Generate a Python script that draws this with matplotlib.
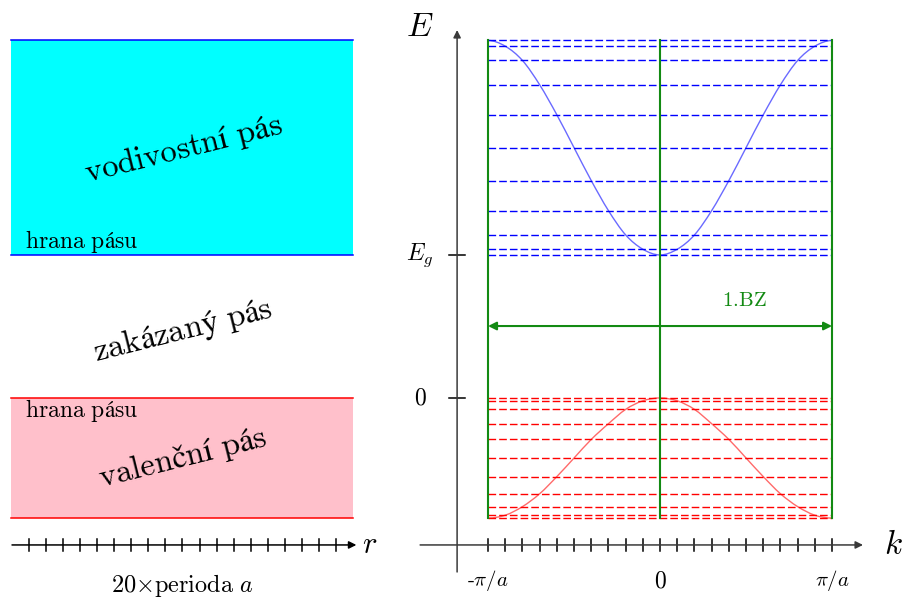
import numpy as np
import matplotlib
matplotlib.use("Agg")
import matplotlib.pyplot as plt
from matplotlib.path import Path
from matplotlib.patches import PathPatch, Rectangle

plt.rcParams["mathtext.fontset"] = "cm"
plt.rcParams["font.family"] = ["DejaVu Serif"]

# ---- data -------------------------------------------------------------
# allowed wavevectors of a crystal of 20 periods, in units of pi/a
k_points = [-1.0, -0.9, -0.8, -0.7, -0.6, -0.5, -0.4, -0.3, -0.2, -0.1, 0.0,
            0.1, 0.2, 0.3, 0.4, 0.5, 0.6, 0.7, 0.8, 0.9, 1.0]
# band energies at |k| = 0, 0.1, ..., 1.0 pi/a  (E = 0 at the valence band top)
cond_levels = [1.00, 1.04, 1.14, 1.31, 1.52, 1.75, 1.98, 2.19, 2.36, 2.46, 2.50]
val_levels = [0.00, -0.02, -0.08, -0.18, -0.29, -0.42, -0.55, -0.67, -0.76, -0.82, -0.84]
E_gap = 1.0
n_periods = 20
k_tick_pos = [-1.0, 0.0, 1.0]
k_tick_labels = [r"$\text{-}\pi/a$", r"$0$", r"$\pi/a$"]
E_tick_pos = [0.0, E_gap]
E_tick_labels = [r"$0$", r"$E_g$"]

cond_E = [cond_levels[int(round(abs(k) * 10))] for k in k_points]
val_E = [val_levels[int(round(abs(k) * 10))] for k in k_points]

# ---- styling ----------------------------------------------------------
GREEN = "#138a13"
AXIS = "#3a3a3a"
E_LIMS = (-1.406, 2.783)
E_AXIS_Y = -1.028          # energy level where the horizontal axes run

fig = plt.figure(figsize=(9.06, 5.99), dpi=100)
axL = fig.add_axes([0, 0, 400 / 906, 1])
axR = fig.add_axes([400 / 906, 0, 506 / 906, 1])
axL.set_xlim(-0.704, 22.76)
axR.set_xlim(-1.512, 1.430)
for ax in (axL, axR):
    ax.set_ylim(*E_LIMS)
    ax.axis("off")


def smooth_path(xs, ys):
    """Smooth curve through the given points (Catmull-Rom as cubic Beziers)."""
    P = np.column_stack([xs, ys]).astype(float)
    first = np.array([2 * P[0, 0] - P[1, 0], P[1, 1]])
    last = np.array([2 * P[-1, 0] - P[-2, 0], P[-2, 1]])
    Q = np.vstack([first, P, last])
    verts = [Q[1]]
    codes = [Path.MOVETO]
    for i in range(1, len(Q) - 2):
        p0, p1, p2, p3 = Q[i - 1], Q[i], Q[i + 1], Q[i + 2]
        verts += [p1 + (p2 - p0) / 6, p2 - (p3 - p1) / 6, p2]
        codes += [Path.CURVE4] * 3
    return Path(verts, codes)


def arrow(ax, start, end, color, lw=1.3, style="-|>", ms=12):
    ax.annotate("", xy=end, xytext=start,
                arrowprops=dict(arrowstyle=style, color=color, lw=lw,
                                mutation_scale=ms, shrinkA=0, shrinkB=0),
                annotation_clip=False)


# ---- left: bands in real space ----------------------------------------
c_top, c_bot = max(cond_levels), min(cond_levels)
v_top, v_bot = max(val_levels), min(val_levels)
axL.add_patch(Rectangle((-0.03, c_bot), n_periods + 0.03, c_top - c_bot,
                        facecolor="#00ffff", edgecolor="none"))
axL.add_patch(Rectangle((-0.03, v_bot), n_periods + 0.03, v_top - v_bot,
                        facecolor="#ffc0cb", edgecolor="none"))
for y in (c_top, c_bot):
    axL.plot([-0.03, n_periods], [y, y], color="#0000ff", lw=1.1)
for y in (v_top, v_bot):
    axL.plot([-0.03, n_periods], [y, y], color="#ff0000", lw=1.1)

arrow(axL, (0, E_AXIS_Y), (n_periods + 0.2, E_AXIS_Y), "black", lw=1.1, ms=11)
for r in range(1, n_periods):
    axL.plot([r, r], [E_AXIS_Y - 0.045, E_AXIS_Y + 0.045], color="black", lw=1.1)
axL.text(n_periods + 1.0, E_AXIS_Y, r"$r$", fontsize=22, ha="center", va="center")
axL.text(n_periods / 2, -1.31, r"$20{\times}\mathrm{perioda}\ a$",
         fontsize=17.5, ha="center", va="center")

rot = 14
axL.text(10.03, 1.74, r"$\mathrm{vodivostní\ pás}$", fontsize=23.5,
         rotation=rot, rotation_mode="anchor", ha="center", va="center")
axL.text(10.03, 0.47, r"$\mathrm{zakázaný\ pás}$", fontsize=23.5,
         rotation=rot, rotation_mode="anchor", ha="center", va="center")
axL.text(10.03, -0.42, r"$\mathrm{valenční\ pás}$", fontsize=23.5,
         rotation=rot, rotation_mode="anchor", ha="center", va="center")
axL.text(0.77, 1.05, r"$\mathrm{hrana\ pásu}$", fontsize=17,
         ha="left", va="baseline")
axL.text(0.77, -0.133, r"$\mathrm{hrana\ pásu}$", fontsize=17,
         ha="left", va="baseline")

# ---- right: band structure E(k) ---------------------------------------
# one dashed line per discrete level of each band
for Ec, Ev in zip(cond_levels, val_levels):
    axR.plot([-1.0, 1.0], [Ec, Ec], color="#0000ff", lw=1.0, dashes=(5.5, 2.2))
    axR.plot([-1.0, 1.0], [Ev, Ev], color="#ff0000", lw=1.0, dashes=(5.5, 2.2))

# Brillouin zone boundaries and centre
for k in k_tick_pos:
    axR.plot([k, k], [v_bot, c_top], color=GREEN, lw=1.5)

axR.add_patch(PathPatch(smooth_path(k_points, cond_E), facecolor="none",
                        edgecolor="#6a6aff", lw=1.0))
axR.add_patch(PathPatch(smooth_path(k_points, val_E), facecolor="none",
                        edgecolor="#ff6a6a", lw=1.0))

arrow(axR, (-1.0, 0.503), (1.0, 0.503), GREEN, lw=1.5, style="<|-|>", ms=12)
axR.text(0.49, 0.685, r"$\mathrm{1.\!BZ}$", color=GREEN, fontsize=15,
         ha="center", va="center")

# axes
kE = -1.180
arrow(axR, (kE, -1.217), (kE, 2.573), AXIS, lw=1.1, ms=11)
arrow(axR, (-1.395, E_AXIS_Y), (1.180, E_AXIS_Y), AXIS, lw=1.1, ms=11)
for k in k_points:
    axR.plot([k, k], [E_AXIS_Y - 0.045, E_AXIS_Y + 0.045], color="black", lw=1.1)
for E, lab in zip(E_tick_pos, E_tick_labels):
    axR.plot([kE - 0.047, kE + 0.047], [E, E], color="black", lw=1.1)
    axR.text(kE - 0.215, E, lab, fontsize=17, ha="center", va="center")
for k, lab in zip(k_tick_pos, k_tick_labels):
    axR.text(k, -1.277, lab, fontsize=17 if lab == r"$0$" else 15,
             ha="center", va="center")

axR.text(-1.395, 2.595, r"$E$", fontsize=24, ha="center", va="center")
axR.text(1.355, E_AXIS_Y, r"$k$", fontsize=24, ha="center", va="center")

fig.savefig("out.png", dpi=100, facecolor="white")
